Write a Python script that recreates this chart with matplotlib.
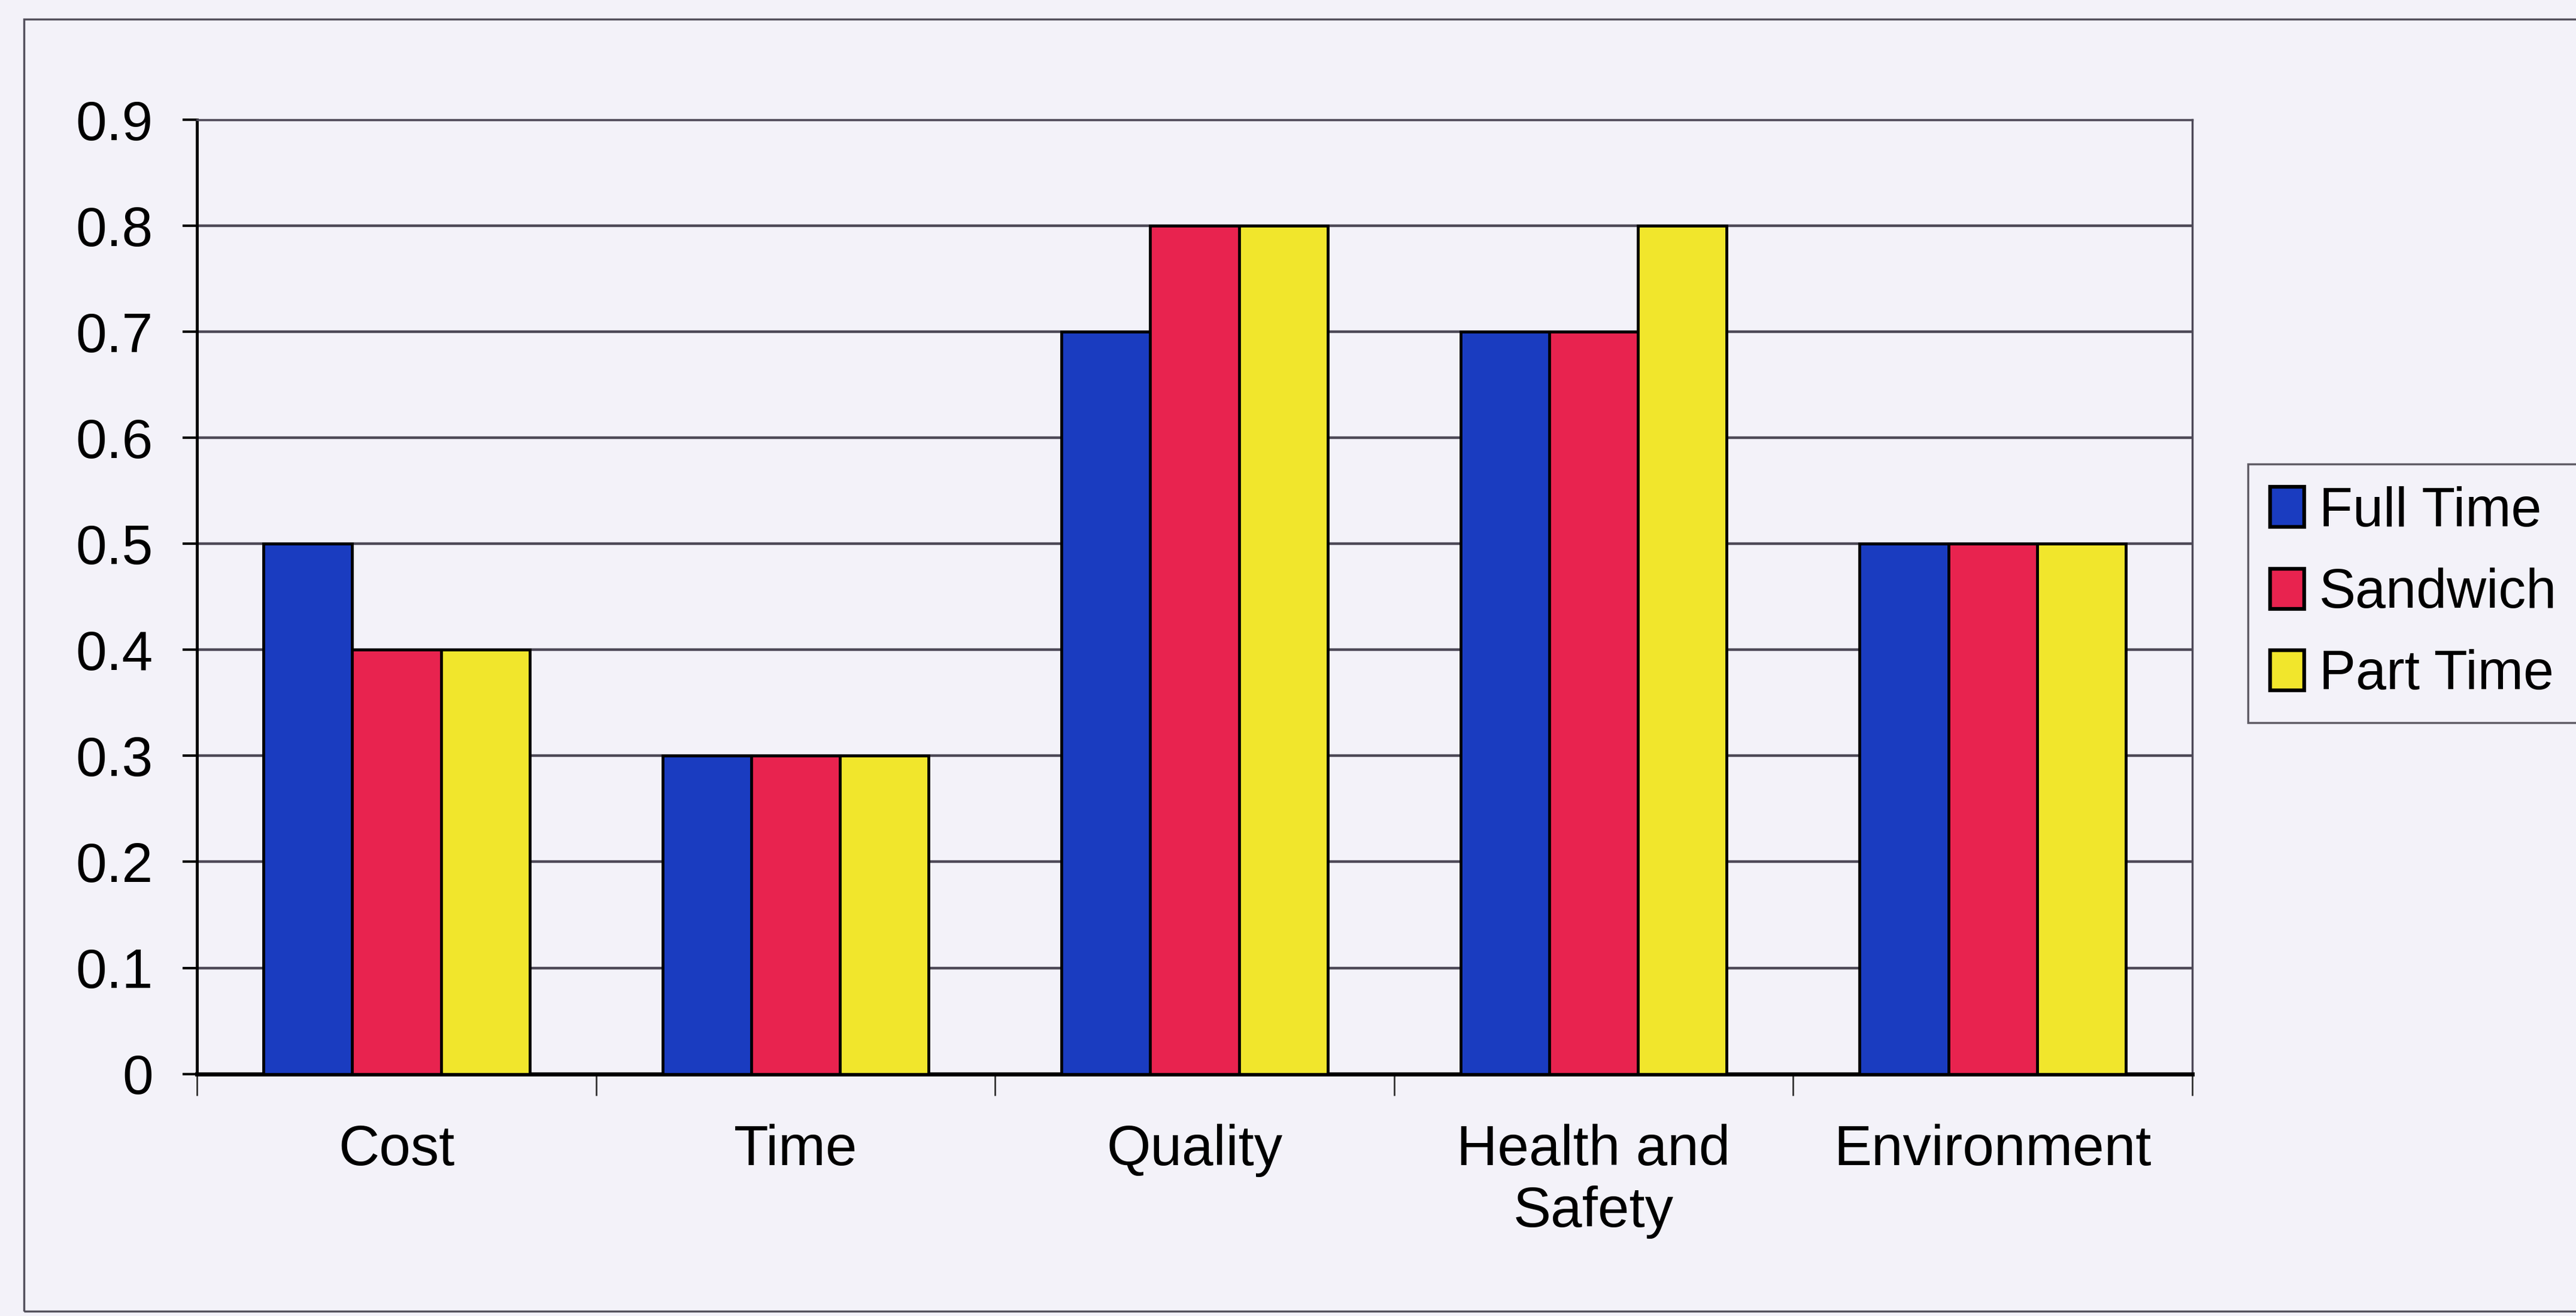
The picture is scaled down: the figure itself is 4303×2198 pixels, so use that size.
import matplotlib
matplotlib.use("Agg")
import matplotlib.pyplot as plt
import numpy as np
from matplotlib.patches import Rectangle

plt.rcParams['font.family'] = ['Liberation Sans', 'DejaVu Sans']

# data
categories = ["Cost", "Time", "Quality", "Health and\nSafety", "Environment"]
full_time = [0.5, 0.3, 0.7, 0.7, 0.5]
sandwich = [0.4, 0.3, 0.8, 0.7, 0.5]
part_time = [0.4, 0.3, 0.8, 0.8, 0.5]
series_names = ["Full Time", "Sandwich", "Part Time"]
series_colors = ["#1a3cc0", "#e8234f", "#f1e62c"]
yticks = [0, 0.1, 0.2, 0.3, 0.4, 0.5, 0.6, 0.7, 0.8, 0.9]
ytick_labels = ["0", "0.1", "0.2", "0.3", "0.4", "0.5", "0.6", "0.7", "0.8", "0.9"]

bg = "#f3f2f9"
fig = plt.figure(figsize=(43.03, 21.98), dpi=100, facecolor=bg)
ax = fig.add_axes([0.0765, 0.184, 0.851 - 0.0765, 0.909 - 0.184])
ax.set_facecolor(bg)

# outer chart frame (cut off on the right like the scan)
fig.patches.append(Rectangle((40 / 4303, 8 / 2198), 1.2, 1 - 40 / 2198,
                             transform=fig.transFigure, fill=False,
                             edgecolor="#55525e", linewidth=2.5))

x = np.arange(len(categories))
w = 1 / 4.5
for i, (vals, name, col) in enumerate(zip([full_time, sandwich, part_time], series_names, series_colors)):
    ax.bar(x + (i - 1) * w, vals, w, color=col, edgecolor="black", linewidth=3.5,
           label=name, zorder=3)

ax.set_xlim(-0.5, len(categories) - 0.5)
ax.set_ylim(0, 0.9)
ax.set_yticks(yticks)
ax.set_yticklabels(ytick_labels)
ax.yaxis.grid(True, color="#4d4957", linewidth=3.2, zorder=0)
ax.set_axisbelow(True)

ax.set_xticks(np.arange(len(categories) + 1) - 0.5, minor=False)
ax.set_xticklabels([])
ax.set_xticks(x, minor=True)
ax.set_xticklabels(categories, minor=True, fontsize=68)
ax.tick_params(axis="x", which="minor", length=0, pad=60)
ax.tick_params(axis="x", which="major", length=26, width=2, color="#333")
ax.tick_params(axis="y", length=17, width=3, pad=36, labelsize=67)

for s in ["top", "right"]:
    ax.spines[s].set_color("#4d4957")
    ax.spines[s].set_linewidth(2.5)
ax.spines["left"].set_linewidth(3.5)
ax.spines["bottom"].set_linewidth(5)

leg = fig.legend(loc="upper left", bbox_to_anchor=(3755 / 4303, 1 - 775 / 2198),
                 fontsize=66, frameon=True, fancybox=False, borderpad=0.4,
                 handlelength=0.62, handleheight=0.75, handletextpad=0.28,
                 labelspacing=0.55, borderaxespad=0)
leg.get_frame().set_edgecolor("#3a3740")
leg.get_frame().set_linewidth(2.5)
leg.get_frame().set_facecolor(bg)
for h in leg.legend_handles:
    h.set_linewidth(4.5)

fig.savefig("out.png", dpi=100, facecolor=bg)
